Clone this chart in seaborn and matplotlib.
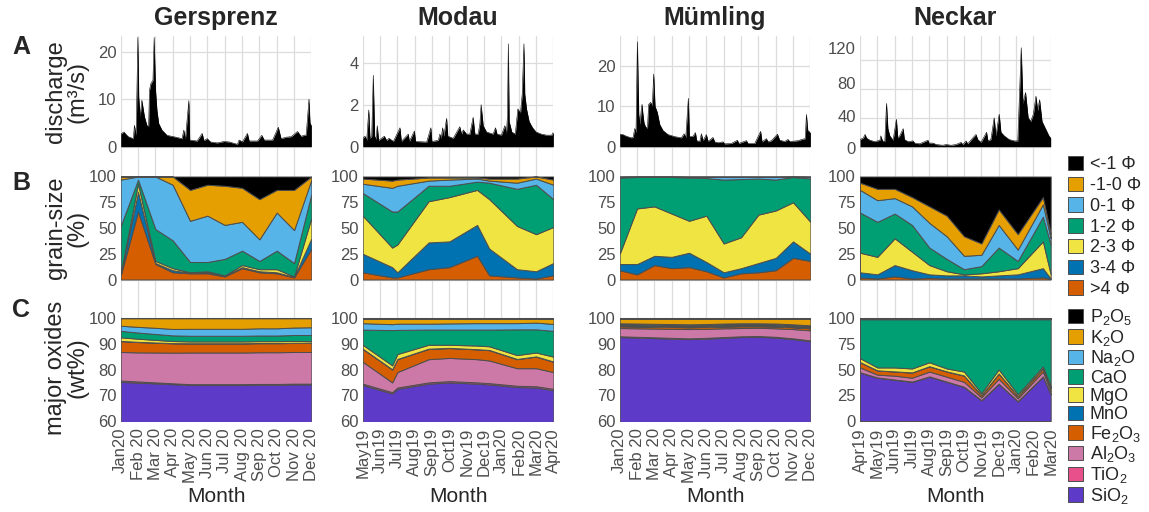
import numpy as np
import pandas as pd
import matplotlib
matplotlib.use("Agg")
import matplotlib.pyplot as plt
import seaborn as sns
from matplotlib.patches import Patch

sns.set_theme(style="whitegrid")
plt.rcParams['font.family'] = ['Liberation Sans', 'DejaVu Sans']
plt.rcParams['mathtext.fontset'] = 'custom'
plt.rcParams['mathtext.rm'] = 'Liberation Sans'
plt.rcParams['mathtext.it'] = 'Liberation Sans:italic'
plt.rcParams['mathtext.bf'] = 'Liberation Sans:bold'

# ---------------- data ----------------
rivers = ["Gersprenz", "Modau", "Mümling", "Neckar"]
months_2020 = ["Jan20", "Feb 20", "Mar 20", "Apr 20", "May 20", "Jun 20", "Jul 20",
               "Aug 20", "Sep 20", "Oct 20", "Nov 20", "Dec 20"]
months_modau = ["May19", "Jun19", "Jul19", "Aug19", "Sep19", "Oct19", "Nov19", "Dec19",
                "Jan20", "Feb20", "Mar20", "Apr20"]
months_neckar = ["Apr19", "May19", "Jun19", "Jul19", "Aug19", "Sep19", "Oct19", "Nov19",
                 "Dec19", "Jan20", "Feb20", "Mar20"]

# discharge (position in months from first tick, m3/s)
ger_qx = [0.00, 0.19, 0.30, 0.44, 0.73, 0.79, 0.89, 0.99, 1.04, 1.12, 1.22, 1.28, 1.37, 1.51, 1.61,
          1.66, 1.74, 1.86, 1.93, 2.01, 2.09, 2.19, 2.38, 2.67, 3.06, 3.54, 3.64, 3.73, 3.93, 3.98,
          4.41, 4.70, 4.80, 4.99, 5.18, 5.57, 5.96, 6.25, 6.54, 6.73, 6.83, 7.02, 7.31, 7.41, 7.89,
          8.14, 8.28, 8.76, 9.09, 9.25, 9.54, 9.83, 10.20, 10.40, 10.70, 10.86, 10.92, 11.00]
ger_q = [2.7, 3.1, 2.6, 2.1, 1.7, 4.5, 2.4, 23, 10.5, 6.3, 9.8, 8.4, 6.3, 4.5, 4.2,
         11.9, 13.3, 14, 23, 11.9, 7.7, 4.9, 3.5, 2.4, 2.1, 1.7, 3.5, 1.5, 9.7, 1.4,
         1.2, 2.8, 1.3, 1.7, 1.0, 0.8, 1.1, 1.0, 0.7, 0.5, 1.4, 1.0, 2.8, 1.2, 1.2,
         2.4, 1.4, 1.4, 4.1, 1.7, 2.0, 2.1, 3.2, 2.2, 2.5, 10, 5, 4.5]

mod_qx = [0.00, 0.13, 0.23, 0.35, 0.42, 0.52, 0.61, 0.69, 0.77, 0.84, 0.92, 1.25, 1.38, 1.52, 1.77,
          2.15, 2.23, 2.63, 2.69, 2.98, 3.05, 3.69, 3.93, 3.99, 4.36, 4.45, 4.53, 4.61, 4.68, 4.84,
          4.91, 5.22, 5.60, 5.70, 5.80, 5.99, 6.18, 6.37, 6.47, 6.66, 6.76, 6.83, 6.95, 7.14, 7.52,
          7.66, 7.75, 8.00, 8.20, 8.29, 8.35, 8.40, 8.45, 8.60, 8.80, 8.95, 9.10, 9.20, 9.30, 9.35,
          9.45, 9.60, 9.80, 10.00, 10.30, 10.60, 10.90, 11.00]
mod_q = [0.4, 0.5, 0.3, 1.75, 0.4, 0.5, 3.4, 0.5, 0.35, 1.0, 0.3, 0.5, 0.3, 0.4, 0.25,
         0.9, 0.25, 0.6, 0.25, 0.75, 0.25, 0.22, 0.9, 0.25, 0.3, 0.6, 0.4, 0.9, 0.5, 1.35,
         0.5, 0.4, 0.95, 0.6, 0.8, 0.6, 0.6, 1.4, 0.6, 0.6, 1.1, 2.0, 1.0, 0.7, 0.6,
         0.9, 0.6, 0.55, 1.0, 0.6, 1.5, 4.9, 1.2, 0.7, 0.6, 1.8, 1.6, 2.5, 4.9, 2.5,
         1.8, 1.2, 0.9, 0.7, 0.6, 0.55, 0.55, 0.7]

mue_qx = [0.00, 0.19, 0.38, 0.67, 0.77, 0.87, 0.94, 1.02, 1.10, 1.17, 1.25, 1.29, 1.33, 1.40, 1.48,
          1.60, 1.67, 1.79, 1.88, 1.96, 2.04, 2.17, 2.31, 2.50, 2.79, 3.17, 3.56, 3.71, 3.81, 3.96,
          4.02, 4.23, 4.37, 4.44, 4.62, 4.71, 4.81, 5.00, 5.10, 5.38, 5.48, 5.67, 5.96, 6.06, 6.44,
          6.79, 6.87, 7.31, 7.40, 7.79, 8.13, 8.21, 8.46, 8.56, 8.75, 9.10, 9.23, 9.52, 9.71, 9.81,
          10.10, 10.30, 10.50, 10.70, 10.77, 10.85, 11.00]
mue_q = [3.1, 3.0, 2.6, 2.2, 2.3, 4.5, 3.5, 26, 8, 5.5, 9.5, 10.5, 8.5, 6, 5,
         4.5, 10.5, 11, 10, 18, 10, 8.5, 5.5, 4, 3, 2.5, 2.2, 3.2, 2.3, 12,
         2.5, 2.6, 3.5, 1.5, 1.3, 3.2, 1.5, 3.0, 1.3, 2.3, 1.2, 1.0, 1.2, 0.7, 0.8,
         1.6, 0.8, 1.5, 0.8, 0.8, 3.8, 1.2, 2.0, 1.2, 1.5, 3.1, 1.6, 1.3, 1.8, 1.3,
         1.4, 1.5, 1.8, 2.0, 8.0, 4.0, 3.5]

nec_qx = [0.00, 0.19, 0.29, 0.38, 0.57, 0.86, 1.15, 1.20, 1.30, 1.43, 1.53, 1.61, 1.72, 1.91, 2.10,
          2.18, 2.29, 2.49, 2.56, 2.77, 3.06, 3.15, 3.44, 3.92, 3.98, 4.21, 4.40, 4.78, 4.97, 5.26,
          5.54, 5.83, 5.93, 6.12, 6.21, 6.50, 6.69, 6.79, 6.98, 7.30, 7.38, 7.55, 7.74, 7.84, 8.03,
          8.13, 8.32, 8.60, 8.90, 9.10, 9.30, 9.40, 9.55, 9.70, 9.85, 10.00, 10.15, 10.25, 10.36, 10.50,
          10.70, 10.90, 11.00]
nec_q = [10, 12, 17, 12, 9, 7, 9, 15, 8, 7, 60, 25, 15, 9, 38,
         12, 15, 25, 10, 7, 8, 5, 4, 9, 5, 5, 3, 2, 3, 2,
         3, 6, 3, 8, 4, 12, 17, 10, 6, 20, 8, 10, 40, 15, 45,
         20, 15, 10, 8, 8, 137, 60, 75, 40, 35, 45, 70, 50, 65, 35,
         25, 15, 12]

# grain-size samples (%), classes listed from coarse (top) to fine (bottom)
gs_labels = ["<-1 Φ", "-1-0 Φ", "0-1 Φ", "1-2 Φ", "2-3 Φ", "3-4 Φ", ">4 Φ"]

ger_sx = [0, 1, 2, 3, 4, 5, 6, 7, 8, 9, 10, 11]
ger_lt1 = [0, 0, 0, 0, 13, 8, 9, 11, 22, 13, 13, 0]
ger_m10 = [3, 0, 0, 8, 30, 30, 38, 33, 39, 22, 39, 3]
ger_01 = [45, 3, 51, 54, 40, 45, 33, 28, 21, 37, 32, 14]
ger_12 = [46, 4, 31, 27, 10, 9, 16, 14, 8, 18, 13, 23]
ger_23 = [1, 8, 2, 2, 0.5, 1, 0.5, 2, 2, 3, 0.5, 20]
ger_34 = [1, 19, 1, 2, 0.5, 1, 0.5, 1, 1, 1, 0.5, 10]
ger_gt4 = [4, 66, 15, 7, 6, 6, 3, 11, 7, 6, 2, 30]

mod_sx = [0, 1.7, 2, 3.8, 5, 6.6, 7.3, 8.9, 10, 11]
mod_lt1 = [2, 4, 3, 1, 1, 1, 2, 2, 0, 3]
mod_m10 = [5, 7, 6, 3, 2, 1, 2, 4, 2, 5]
mod_01 = [9, 23, 25, 5, 6, 3, 2, 6, 6, 14]
mod_12 = [22, 35, 32, 15, 11, 8, 16, 36, 48, 27]
mod_23 = [37, 19, 27, 40, 43, 34, 48, 42, 36, 35]
mod_34 = [18, 10, 5, 26, 25, 30, 26, 8, 7, 12]
mod_gt4 = [7, 2, 2, 10, 12, 23, 4, 2, 1, 4]

mue_sx = [0, 1, 2, 3, 4, 5, 6, 7, 8, 9, 10, 11]
mue_lt1 = [0.2, 0.1, 0.1, 0.1, 0.2, 0.2, 0.2, 0.2, 0.2, 0.2, 0.1, 0.2]
mue_m10 = [0.3, 0.2, 0.2, 0.2, 0.3, 0.3, 0.3, 0.3, 0.3, 0.3, 0.2, 0.3]
mue_01 = [0.5, 0.2, 0.2, 0.2, 0.5, 1, 2.5, 2, 1.5, 2.5, 0.2, 1.5]
mue_12 = [74, 30.5, 28.5, 35.5, 42, 36.5, 62, 56.5, 35, 30, 24.5, 42]
mue_23 = [10, 54, 48, 42, 31, 45, 28, 30, 47, 46, 38, 31]
mue_34 = [6, 10, 9, 11, 14, 9, 5, 5, 9, 12, 16, 7]
mue_gt4 = [9, 5, 14, 11, 12, 8, 2, 6, 7, 9, 21, 18]

nec_sx = [0, 1, 2, 3, 4, 5, 6, 7, 8, 9.1, 10.55, 11]
nec_lt1 = [6, 12, 12, 20, 29, 38, 58, 65, 32, 56, 20, 56]
nec_m10 = [7, 11, 9, 9, 16, 20, 19, 11, 15, 15, 7, 4]
nec_01 = [22, 21, 15, 18, 24, 22, 13, 11, 22, 11, 12, 6]
nec_12 = [39, 34, 24, 26, 17, 12, 5, 7, 23, 7, 24, 29]
nec_23 = [19, 17, 26, 18, 9, 4, 1, 3, 4, 6, 26, 4]
nec_34 = [5, 4, 11, 8, 3.5, 3, 3, 2, 3, 4, 9, 0.5]
nec_gt4 = [2, 1, 3, 1, 1.5, 1, 1, 1, 1, 1, 2, 0.5]

# major oxides (wt%)
ox_labels = ["P$_2$O$_5$", "K$_2$O", "Na$_2$O", "CaO", "MgO", "MnO",
             "Fe$_2$O$_3$", "Al$_2$O$_3$", "TiO$_2$", "SiO$_2$"]

ger_si = [75.2, 74.9, 74.6, 74.3, 74.0, 74.0, 74.0, 74.0, 74.1, 74.1, 74.2, 74.2]
ger_ti = [0.5, 0.45, 0.4, 0.35, 0.3, 0.3, 0.3, 0.3, 0.3, 0.3, 0.3, 0.3]
ger_al = [11.1, 11.3, 11.6, 11.9, 12.3, 12.3, 12.3, 12.3, 12.3, 12.3, 12.3, 12.3]
ger_fe = [4.2, 4.0, 3.8, 3.6, 3.5, 3.5, 3.5, 3.5, 3.5, 3.5, 3.5, 3.5]
ger_mn = [0.1, 0.1, 0.1, 0.1, 0.1, 0.1, 0.1, 0.1, 0.1, 0.1, 0.1, 0.1]
ger_mg = [1.4, 1.2, 1.0, 0.8, 0.7, 0.7, 0.7, 0.7, 0.7, 0.7, 0.7, 0.6]
ger_ca = [2.5, 2.4, 2.3, 2.2, 2.2, 2.2, 2.2, 2.2, 2.2, 2.2, 2.3, 2.4]
ger_na = [2.0, 2.2, 2.4, 2.5, 2.7, 2.7, 2.7, 2.7, 2.8, 2.8, 2.9, 3.0]
ger_k = [2.85, 3.3, 3.65, 4.1, 4.05, 4.05, 4.05, 4.05, 3.85, 3.85, 3.55, 3.45]
ger_p = [0.15, 0.15, 0.15, 0.15, 0.15, 0.15, 0.15, 0.15, 0.15, 0.15, 0.15, 0.15]

mod_si = [74, 70.7, 72.5, 74.5, 75, 74.5, 74.2, 73.2, 73, 72]
mod_ti = [0.5, 0.5, 0.5, 0.5, 0.5, 0.5, 0.5, 0.5, 0.5, 0.5]
mod_al = [8.5, 3.8, 6.0, 9.0, 9.0, 9.0, 8.8, 6.8, 7.0, 6.5]
mod_fe = [5.0, 5.0, 5.0, 4.0, 3.8, 3.8, 4.0, 3.5, 4.5, 4.0]
mod_mn = [0.1, 0.1, 0.1, 0.1, 0.1, 0.1, 0.1, 0.1, 0.1, 0.1]
mod_mg = [1.5, 1.5, 1.9, 1.5, 1.2, 1.4, 1.4, 1.5, 1.5, 1.9]
mod_ca = [5.9, 13.7, 9.4, 5.9, 5.9, 6.2, 6.5, 10.0, 9.0, 10.0]
mod_na = [2.5, 2.3, 2.4, 2.3, 2.4, 2.5, 2.5, 2.4, 2.6, 2.7]
mod_k = [1.7, 2.1, 1.9, 1.9, 1.8, 1.7, 1.7, 1.7, 1.5, 2.0]
mod_p = [0.3, 0.3, 0.3, 0.3, 0.3, 0.3, 0.3, 0.3, 0.3, 0.3]

mue_si = [92.6, 92.4, 92.2, 92.0, 91.8, 92.0, 92.3, 92.6, 92.7, 92.4, 91.8, 91.0]
mue_ti = [0.3, 0.3, 0.3, 0.3, 0.3, 0.3, 0.3, 0.3, 0.3, 0.3, 0.3, 0.3]
mue_al = [3.2, 3.3, 3.4, 3.5, 3.6, 3.5, 3.4, 3.2, 3.2, 3.3, 3.6, 3.9]
mue_fe = [0.7, 0.7, 0.7, 0.7, 0.7, 0.7, 0.7, 0.7, 0.6, 0.7, 0.7, 0.8]
mue_mn = [0.05, 0.05, 0.05, 0.05, 0.05, 0.05, 0.05, 0.05, 0.05, 0.05, 0.05, 0.05]
mue_mg = [0.3, 0.3, 0.3, 0.3, 0.3, 0.3, 0.3, 0.3, 0.3, 0.3, 0.3, 0.3]
mue_ca = [0.4, 0.4, 0.4, 0.4, 0.4, 0.4, 0.4, 0.4, 0.4, 0.4, 0.4, 0.4]
mue_na = [0.4, 0.4, 0.4, 0.4, 0.4, 0.4, 0.4, 0.4, 0.4, 0.4, 0.4, 0.4]
mue_k = [1.75, 1.85, 1.95, 2.05, 2.15, 2.05, 1.85, 1.75, 1.75, 1.85, 2.15, 2.55]
mue_p = [0.3, 0.3, 0.3, 0.3, 0.3, 0.3, 0.3, 0.3, 0.3, 0.3, 0.3, 0.3]

nec_si = [47, 42, 40, 38, 43, 38, 33, 20, 36, 19, 43, 26]
nec_ti = [0.3, 0.3, 0.3, 0.3, 0.3, 0.3, 0.3, 0.3, 0.3, 0.3, 0.3, 0.3]
nec_al = [4.7, 2.7, 3.7, 3.7, 4.7, 4.7, 4.7, 2.7, 4.7, 2.7, 4.7, 2.7]
nec_fe = [5, 4, 4, 5, 5, 5, 6, 2, 5, 2, 3, 3]
nec_mn = [0.2, 0.2, 0.2, 0.2, 0.2, 0.2, 0.2, 0.2, 0.2, 0.2, 0.2, 0.2]
nec_mg = [3.8, 2.8, 3.8, 3.8, 3.8, 2.8, 3.8, 1.8, 3.8, 1.8, 1.8, 1.8]
nec_ca = [37.6, 46.6, 46.6, 47.6, 41.6, 47.6, 50.6, 71.6, 48.6, 72.6, 45.6, 64.6]
nec_na = [0.3, 0.3, 0.3, 0.3, 0.3, 0.3, 0.3, 0.3, 0.3, 0.3, 0.3, 0.3]
nec_k = [0.8, 0.8, 0.8, 0.8, 0.8, 0.8, 0.8, 0.8, 0.8, 0.8, 0.8, 0.8]
nec_p = [0.3, 0.3, 0.3, 0.3, 0.3, 0.3, 0.3, 0.3, 0.3, 0.3, 0.3, 0.3]

# ---------------- style ----------------
gs_colors = ["#000000", "#E69F00", "#56B4E9", "#009E73", "#F0E442", "#0072B2", "#D55E00"]
ox_colors = ["#000000", "#E69F00", "#56B4E9", "#009E73", "#F0E442", "#0072B2",
             "#D55E00", "#CC79A7", "#E7508A", "#5E3AC8"]
EDGE = "#4D4D4D"
GRID = "#DCDCDC"
TICKC = "#4D4D4D"

W, H = 1149, 512
fig = plt.figure(figsize=(W / 100, H / 100), dpi=100)
fig.patch.set_facecolor("white")

cols_x = [120.7, 362.7, 619.7, 860.0]
col_w = 190.7
rowA, rowB, rowC = (36, 158), (158, 297), (297, 421)


def add_ax(x0, top, bot):
    return fig.add_axes([x0 / W, 1 - bot / H, col_w / W, (bot - top) / H])


def ylim_from(v1, p1, v2, p2, top, bot):
    s = (p2 - p1) / (v1 - v2)
    return v2 - (bot - p2) / s, v1 + (p1 - top) / s


def style(ax):
    ax.set_xlim(0, 11)
    ax.set_xticks(range(12))
    for s in ax.spines.values():
        s.set_visible(False)
    ax.set_axisbelow(True)
    ax.grid(True, axis="x", color=GRID, lw=0.9)
    ax.grid(True, axis="y", color=GRID, lw=0.9)
    ax.tick_params(axis="y", length=0, labelsize=12, labelcolor=TICKC, pad=3)
    ax.set_xlabel("")
    ax.set_ylabel("")


dis = [(ger_qx, ger_q), (mod_qx, mod_q), (mue_qx, mue_q), (nec_qx, nec_q)]
dis_ticks = [[0, 10, 20], [0, 2, 4], [0, 10, 20], [0, 40, 80, 120]]
dis_ref = [(20, 51.7), (4, 62.7), (20, 66.0), (120, 60.0)]

gs = [
    (ger_sx, [ger_gt4, ger_34, ger_23, ger_12, ger_01, ger_m10, ger_lt1]),
    (mod_sx, [mod_gt4, mod_34, mod_23, mod_12, mod_01, mod_m10, mod_lt1]),
    (mue_sx, [mue_gt4, mue_34, mue_23, mue_12, mue_01, mue_m10, mue_lt1]),
    (nec_sx, [nec_gt4, nec_34, nec_23, nec_12, nec_01, nec_m10, nec_lt1]),
]
ox = [
    [ger_si, ger_ti, ger_al, ger_fe, ger_mn, ger_mg, ger_ca, ger_na, ger_k, ger_p],
    [mod_si, mod_ti, mod_al, mod_fe, mod_mn, mod_mg, mod_ca, mod_na, mod_k, mod_p],
    [mue_si, mue_ti, mue_al, mue_fe, mue_mn, mue_mg, mue_ca, mue_na, mue_k, mue_p],
    [nec_si, nec_ti, nec_al, nec_fe, nec_mn, nec_mg, nec_ca, nec_na, nec_k, nec_p],
]
xlabels = [months_2020, months_modau, months_2020, months_neckar]

for i, river in enumerate(rivers):
    x0 = cols_x[i]
    # ---- A: discharge
    axA = add_ax(x0, *rowA)
    qx, q = dis[i]
    axA.fill_between(qx, q, 0, color="black", lw=0)
    sns.lineplot(x=qx, y=q, ax=axA, color="black", lw=0.4)
    style(axA)
    v1, p1 = dis_ref[i]
    axA.set_ylim(*ylim_from(v1, p1, 0, 146.7, *rowA))
    if i == 3:
        scale = (146.7 - 60.0) / 120
        lab_px = [148.3, 116.0, 83.3, 48.3]
        axA.set_yticks([(146.7 - p) / scale for p in lab_px])
        axA.set_yticklabels([str(t) for t in dis_ticks[i]])
        axA.set_yticks(dis_ticks[i], minor=True)
        axA.grid(False, axis="y", which="major")
        axA.grid(True, axis="y", which="minor", color=GRID, lw=0.9)
        axA.tick_params(axis="y", which="minor", length=0)
    else:
        axA.set_yticks(dis_ticks[i])
    axA.tick_params(axis="x", length=0, labelbottom=False)

    # ---- B: grain size
    axB = add_ax(x0, *rowB)
    sx, layers = gs[i]
    axB.stackplot(sx, *layers, colors=gs_colors[::-1], edgecolor=EDGE, linewidth=0.7)
    style(axB)
    axB.set_ylim(*ylim_from(100, 176.5, 0, 279.5, *rowB))
    axB.set_yticks([0, 25, 50, 75, 100])
    axB.tick_params(axis="x", length=0, labelbottom=False)

    # ---- C: major oxides
    axC = add_ax(x0, *rowC)
    axC.stackplot(sx, *ox[i], colors=ox_colors[::-1], edgecolor=EDGE, linewidth=0.7)
    style(axC)
    if i == 3:
        axC.set_ylim(*ylim_from(100, 318, 0, 421, *rowC))
        axC.set_yticks([0, 25, 50, 75, 100])
    else:
        axC.set_ylim(*ylim_from(100, 318, 60, 421, *rowC))
        axC.set_yticks([60, 70, 80, 90, 100])
    axC.set_xticks(range(12))
    axC.set_xticklabels(xlabels[i], rotation=90, ha="center", va="top")
    axC.tick_params(axis="x", length=3, width=0.8, color=GRID, labelsize=12,
                    labelcolor=TICKC, pad=2)

    # titles
    cx = x0 + col_w / 2
    fig.text(cx / W, 1 - 18 / H, river, ha="center", va="center",
             fontsize=18, fontweight="bold")
    fig.text(cx / W, 1 - 497 / H, "Month", ha="center", va="center", fontsize=15)

# panel letters
for lab, yy in [("A", 47), ("B", 183), ("C", 310)]:
    fig.text(21 / W, 1 - yy / H, lab, ha="center", va="center", fontsize=18,
             fontweight="bold")

# y-axis titles
for txt, yy in [("discharge\n(m³/s)", 92), ("grain-size\n(%)", 228),
                ("major oxides\n(wt%)", 368)]:
    fig.text(67 / W, 1 - yy / H, txt, ha="center", va="center", rotation=90,
             fontsize=17, linespacing=1.0, multialignment="center")

# legends
gs_handles = [Patch(facecolor=c, edgecolor=EDGE, lw=0.7) for c in gs_colors]
fig.legend(gs_handles, gs_labels, loc="upper left", bbox_to_anchor=(1068 / W, 1 - 156 / H),
           frameon=False, fontsize=13, handlelength=0.85, handleheight=0.85,
           handletextpad=0.35, labelspacing=0.18, borderaxespad=0, borderpad=0)
ox_handles = [Patch(facecolor=c, edgecolor=EDGE, lw=0.7) for c in ox_colors]
fig.legend(ox_handles, ox_labels, loc="upper left", bbox_to_anchor=(1068 / W, 1 - 307 / H),
           frameon=False, fontsize=13, handlelength=0.85, handleheight=0.85,
           handletextpad=0.35, labelspacing=0.04, borderaxespad=0, borderpad=0)

fig.savefig("out.png", dpi=100, facecolor="white")
